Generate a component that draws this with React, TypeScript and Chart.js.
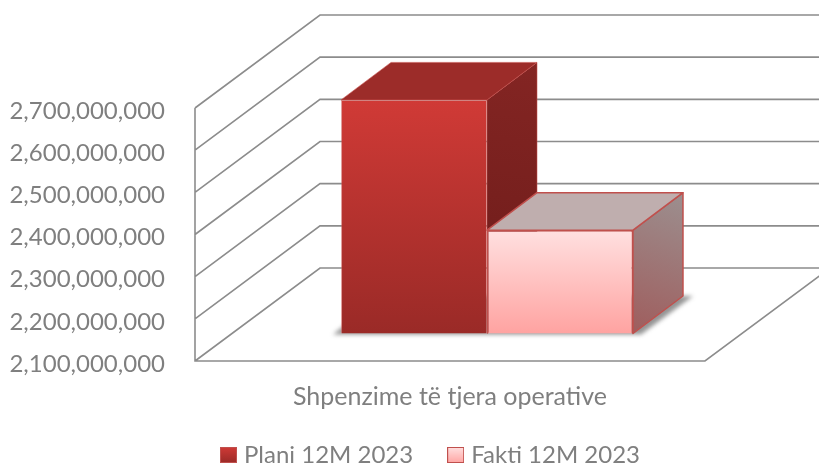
import { useEffect, useRef } from "react";
import { Chart, registerables } from "chart.js";

Chart.register(...registerables);

const categories = ["Shpenzime të tjera operative"];
const seriesNames = ["Plani 12M 2023", "Fakti 12M 2023"];
const planiValues = [2654000000];
const faktiValues = [2345000000];
const axisMin = 2100000000;
const axisMax = 2700000000;
const axisStep = 100000000;

const FONT = "Lato, 'Open Sans', sans-serif";
const TEXT = "#7f7f7f";
const GRID = "#8c8c8c";
// oblique projection of the 3D box
const WALL_DX = 125;
const WALL_DY = -93;
const BAR_SHIFT_X = 37;
const BAR_SHIFT_Y = -27.5;
const BAR_DX = 50;
const BAR_DY = -37.5;

function vGrad(ctx: CanvasRenderingContext2D, y0: number, y1: number, a: string, b: string) {
  const g = ctx.createLinearGradient(0, y0, 0, y1);
  g.addColorStop(0, a);
  g.addColorStop(1, b);
  return g;
}

function swatch(a: string, b: string, border: string) {
  const c = document.createElement("canvas");
  c.width = 17;
  c.height = 16;
  const x = c.getContext("2d")!;
  x.fillStyle = vGrad(x, 0, 16, a, b);
  x.fillRect(0, 0, 17, 16);
  x.strokeStyle = border;
  x.lineWidth = 1;
  x.strokeRect(0.5, 0.5, 16, 15);
  return c;
}

function poly(ctx: CanvasRenderingContext2D, pts: number[][], fill: any, stroke?: string, lw = 1) {
  ctx.beginPath();
  pts.forEach((p, i) => (i ? ctx.lineTo(p[0], p[1]) : ctx.moveTo(p[0], p[1])));
  ctx.closePath();
  ctx.fillStyle = fill;
  ctx.fill();
  if (stroke) {
    ctx.strokeStyle = stroke;
    ctx.lineWidth = lw;
    ctx.lineJoin = "round";
    ctx.stroke();
  }
}

const box3d = {
  id: "box3d",
  afterLayout(chart: any) {
    const lg = chart.legend;
    lg.left += 80;
    lg.right += 80;
    lg.top = 404;
    lg.bottom = 404 + lg.height;
    chart.scales.x.bottom = chart.height;
  },
  beforeDatasetsDraw(chart: any) {
    const { ctx, chartArea: a, scales } = chart;
    const y = scales.y;
    ctx.save();
    // walls and floor
    ctx.strokeStyle = GRID;
    ctx.lineWidth = 1.6;
    ctx.beginPath();
    ctx.moveTo(a.left, a.top);
    ctx.lineTo(a.left, a.bottom);
    ctx.lineTo(a.right, a.bottom);
    ctx.lineTo(a.right + WALL_DX, a.bottom + WALL_DY);
    y.ticks.forEach((t: any) => {
      const py = y.getPixelForValue(t.value);
      ctx.moveTo(a.left, py);
      ctx.lineTo(a.left + WALL_DX, py + WALL_DY);
      ctx.lineTo(chart.width + 2, py + WALL_DY);
    });
    ctx.stroke();

    // floor shadow
    const p0 = chart.getDatasetMeta(0).data[0];
    const p1 = chart.getDatasetMeta(1).data[0];
    const fl = p0.x - p0.width / 2 + BAR_SHIFT_X;
    const fr = p1.x + p1.width / 2 + BAR_SHIFT_X;
    const fb = p0.base + BAR_SHIFT_Y;
    ctx.save();
    ctx.filter = "blur(2px)";
    poly(ctx, [[fl - 8, fb + 1], [fr + 8, fb + 1], [fr + BAR_DX + 10, fb + BAR_DY], [fl + 40, fb + BAR_DY]], "rgba(60,60,60,0.55)");
    ctx.restore();

    // top and side faces
    const faces = [
      { el: p0, top: "#9c2c29", sideA: "#842523", sideB: "#6c1b19", line: "rgba(200,80,77,0.55)", lw: 1 },
      { el: p1, top: "#bfaeae", sideA: "#9c8f8f", sideB: "#9f5d5d", line: "#c0504d", lw: 1.5 },
    ];
    faces.forEach((f) => {
      const l = f.el.x - f.el.width / 2 + BAR_SHIFT_X;
      const r = f.el.x + f.el.width / 2 + BAR_SHIFT_X;
      const t = f.el.y + BAR_SHIFT_Y;
      const b = f.el.base + BAR_SHIFT_Y;
      const side = ctx.createLinearGradient(r + BAR_DX, t + BAR_DY, r, b);
      side.addColorStop(0, f.sideA);
      side.addColorStop(1, f.sideB);
      poly(ctx, [[r, t], [r + BAR_DX, t + BAR_DY], [r + BAR_DX, b + BAR_DY], [r, b]], side, f.line, f.lw);
      poly(ctx, [[l, t], [l + BAR_DX, t + BAR_DY], [r + BAR_DX, t + BAR_DY], [r, t]], f.top, f.line, f.lw);
    });
    ctx.restore();
    // front faces are drawn by the bar elements, moved into the box
    ctx.save();
    ctx.translate(BAR_SHIFT_X, BAR_SHIFT_Y);
  },
  afterDatasetsDraw(chart: any) {
    chart.ctx.restore();
  },
};

function frontFill(a: string, b: string) {
  return (c: any) => {
    const area = c.chart.chartArea;
    if (!area || !c.parsed) return a;
    const top = c.chart.scales.y.getPixelForValue(c.parsed.y);
    return vGrad(c.chart.ctx, top, area.bottom, a, b);
  };
}

export default function App() {
  const ref = useRef<HTMLCanvasElement>(null);
  useEffect(() => {
    document.body.style.margin = "0";
    const swatches = [swatch("#cf3a36", "#9a2a27", "#c0504d"), swatch("#ffe0e0", "#ffa5a3", "#c0504d")];
    const chart = new Chart(ref.current!, {
      type: "bar",
      data: {
        labels: categories,
        datasets: [
          {
            label: seriesNames[0],
            data: planiValues,
            base: axisMin,
            backgroundColor: frontFill("#d03a36", "#9a2a27"),
            borderColor: "rgba(200,80,77,0.55)",
            borderWidth: 1,
            clip: false,
          },
          {
            label: seriesNames[1],
            data: faktiValues,
            base: axisMin,
            backgroundColor: frontFill("#ffe0e0", "#ffa3a1"),
            borderColor: "#c0504d",
            borderWidth: 1.5,
            clip: false,
          },
        ] as any,
      },
      options: {
        responsive: false,
        animation: false,
        layout: { padding: { top: 108, right: 114, left: 0, bottom: 0 } },
        datasets: { bar: { categoryPercentage: 0.5725, barPercentage: 1 } } as any,
        plugins: {
          tooltip: { enabled: false },
          legend: {
            position: "bottom",
            labels: {
              usePointStyle: true,
              boxWidth: 7,
              padding: 39,
              color: TEXT,
              font: { family: FONT, size: 24 },
              generateLabels(c: any) {
                return Chart.defaults.plugins.legend.labels
                  .generateLabels(c)
                  .map((l: any, i: number) => ({ ...l, pointStyle: swatches[i], lineWidth: 0 }));
              },
            },
          },
        },
        scales: {
          x: {
            grid: { display: false },
            border: { display: false },
            ticks: { color: TEXT, font: { family: FONT, size: 25 }, padding: 13 },
            afterFit(s: any) {
              s.height = 104 - (s.chart.legend?.height ?? 70);
            },
          },
          y: {
            min: axisMin,
            max: axisMax,
            grid: { display: false },
            border: { display: false },
            ticks: {
              stepSize: axisStep,
              color: TEXT,
              padding: 22,
              labelOffset: 3,
              font: { family: FONT, size: 24 },
              callback: (v: any) => Number(v).toLocaleString("en-US"),
            },
            afterFit(s: any) {
              s.width = 195;
            },
          },
        },
      },
      plugins: [box3d],
    } as any);
    return () => chart.destroy();
  }, []);
  return <canvas ref={ref} width={819} height={465} style={{ display: "block" }} />;
}
